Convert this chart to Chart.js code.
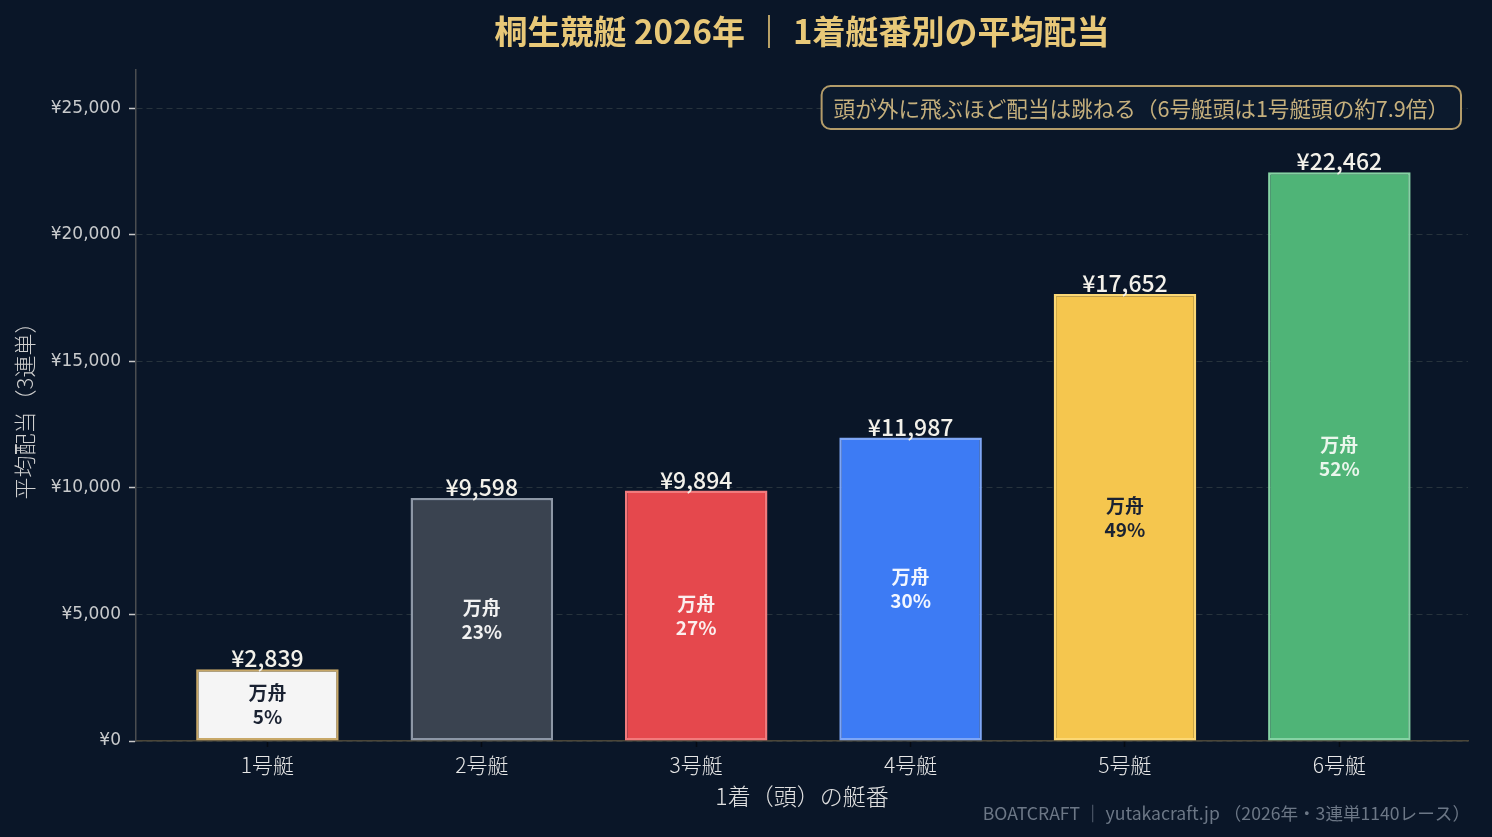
<!DOCTYPE html>
<html lang="ja">
<head>
<meta charset="utf-8">
<title>桐生競艇 2026年 1着艇番別の平均配当</title>
<script src="https://cdn.jsdelivr.net/npm/chart.js@4.4.1/dist/chart.umd.min.js"></script>
<style>
  html, body { margin: 0; padding: 0; background: #0a1628; }
  #wrap { width: 1492px; height: 837px; position: relative; }
</style>
</head>
<body>
<div id="wrap"><canvas id="chart"></canvas></div>
<script>
'use strict';

// chart data
const boats = ['1号艇', '2号艇', '3号艇', '4号艇', '5号艇', '6号艇']
const avgPayout = [2839, 9598, 9894, 11987, 17652, 22462]
const manshuRate = [5, 23, 27, 30, 49, 52]
const yTicks = [0, 5000, 10000, 15000, 20000, 25000]

// bar colours per boat
const fillColors = ['#f5f5f5', '#3a4350', '#e5484d', '#3d7bf4', '#f5c64e', '#4fb477']
const edgeColors = ['#c8a868', '#8d97a6', '#f27a7c', '#7ea6f6', '#fcd874', '#86d3a4']
const innerTextColors = ['#1a2232', '#f2f2f2', '#fbeeee', '#f2f6ff', '#1a2232', '#eaf6ec']

const CJK = '"Noto Sans CJK JP", "Noto Sans", sans-serif'

/**
 * Plugin to draw the value above each bar and the 万舟 rate inside it
 */
const barLabels = {
  id: 'barLabels',
  afterDatasetsDraw(chart) {
    const ctx = chart.ctx
    const meta = chart.getDatasetMeta(0)
    const yScale = chart.scales.y
    ctx.save()
    ctx.textAlign = 'center'
    meta.data.forEach((bar, i) => {
      // value on top
      ctx.font = `500 23px ${CJK}`
      ctx.fillStyle = '#f3f1ea'
      ctx.textBaseline = 'alphabetic'
      ctx.fillText('¥' + avgPayout[i].toLocaleString('en-US'), bar.x, bar.y - 2)

      // share of 万舟 in the middle of the bar
      const yMid = yScale.getPixelForValue(avgPayout[i] / 2)
      ctx.font = `bold 19px ${CJK}`
      ctx.fillStyle = innerTextColors[i]
      ctx.textBaseline = 'middle'
      ctx.fillText('万舟', bar.x, yMid - 12)
      ctx.fillText(manshuRate[i] + '%', bar.x, yMid + 12)
    })
    ctx.restore()
  }
}

/**
 * Plugin for the title, the note box and the footer credit
 */
const decorations = {
  id: 'decorations',
  afterDraw(chart) {
    const ctx = chart.ctx
    const area = chart.chartArea
    const cx = (area.left + area.right) / 2
    ctx.save()

    // title
    ctx.font = `bold 33px ${CJK}`
    ctx.fillStyle = '#e8c878'
    ctx.textAlign = 'center'
    ctx.textBaseline = 'middle'
    ctx.fillText('桐生競艇 2026年 ｜ 1着艇番別の平均配当', cx, 31)

    // note box
    const note = '頭が外に飛ぶほど配当は跳ねる（6号艇頭は1号艇頭の約7.9倍）'
    ctx.font = `21.6px ${CJK}`
    const w = ctx.measureText(note).width + 24
    const h = 43
    const x = area.right - 7 - w
    const y = 86
    ctx.beginPath()
    ctx.roundRect(x, y, w, h, 9)
    ctx.fillStyle = '#0c1a2d'
    ctx.fill()
    ctx.lineWidth = 2
    ctx.strokeStyle = '#b39c6a'
    ctx.stroke()
    ctx.fillStyle = '#c6b07d'
    ctx.textAlign = 'left'
    ctx.fillText(note, x + 12, y + h / 2 + 1)

    // footer credit
    ctx.font = `17.6px ${CJK}`
    ctx.fillStyle = '#6c7786'
    ctx.textAlign = 'right'
    ctx.fillText('BOATCRAFT ｜ yutakacraft.jp （2026年・3連単1140レース）', 1470, 813)

    ctx.restore()
  }
}

const chartElement = document.getElementById('chart')

const config = {
  type: 'bar',
  data: {
    datasets: [{
      data: avgPayout.map((v, i) => ({ x: i, y: v })),
      backgroundColor: fillColors,
      borderColor: edgeColors,
      borderWidth: 2.5,
      borderSkipped: false,
      categoryPercentage: 0.665,
      barPercentage: 1
    }]
  },
  options: {
    responsive: true,
    maintainAspectRatio: false,
    animation: false,
    layout: { padding: { top: 70, right: 24, left: 0, bottom: 0 } },
    plugins: {
      legend: { display: false },
      tooltip: { enabled: false }
    },
    scales: {
      x: {
        type: 'linear',
        offset: false,
        min: -0.613,
        max: 5.6,
        afterBuildTicks: axis => { axis.ticks = boats.map((b, i) => ({ value: i })) },
        afterFit: axis => { axis.height = 96 },
        ticks: {
          callback: value => boats[value] || '',
          color: '#e6e6e6',
          font: { family: CJK, size: 21, weight: '300' },
          padding: 5,
          maxRotation: 0
        },
        grid: { offset: false, drawOnChartArea: false, tickColor: '#050a12', tickLength: 6, tickWidth: 1.5 },
        border: { color: '#4b4638', width: 1.5 },
        title: {
          display: true,
          text: '1着（頭）の艇番',
          color: '#e0e0e0',
          font: { family: CJK, size: 23, weight: '300' },
          padding: { top: 0, bottom: 27 }
        }
      },
      y: {
        min: 0,
        max: 26505,
        afterBuildTicks: axis => { axis.ticks = yTicks.map(v => ({ value: v })) },
        afterFit: axis => { axis.width = 136 },
        ticks: {
          callback: value => '¥' + value.toLocaleString('en-US'),
          color: '#c8cacc',
          font: { family: '"DejaVu Sans", sans-serif', size: 17 },
          padding: 8
        },
        grid: { color: '#27333c', lineWidth: 1, tickColor: '#c8c8c8', tickLength: 7, tickWidth: 1.5 },
        border: { color: '#4a4d50', width: 1.5, dash: [6, 4] },
        title: {
          display: true,
          text: '平均配当（3連単）',
          color: '#cfcfcf',
          font: { family: CJK, size: 22, weight: '300' },
          padding: { top: 11, bottom: 0 }
        }
      }
    }
  },
  plugins: [barLabels, decorations]
}

// create the chart
new Chart(chartElement, config)
</script>
</body>
</html>
